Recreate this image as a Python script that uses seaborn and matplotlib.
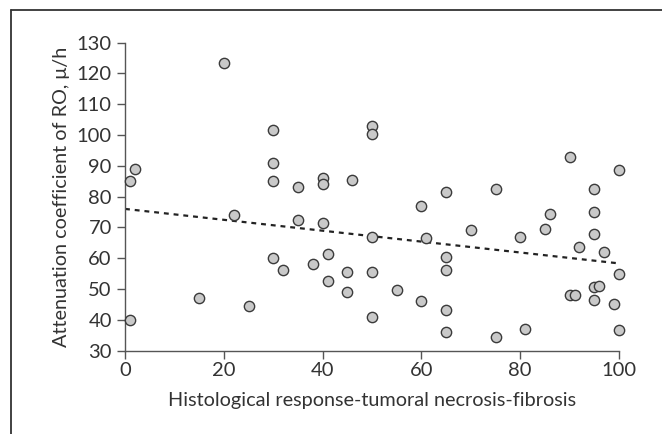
import matplotlib
matplotlib.use("Agg")
import matplotlib.pyplot as plt
import seaborn as sns
import pandas as pd
from matplotlib.lines import Line2D

response = [1, 2, 1, 15, 20, 22, 25, 30, 30, 30, 30, 32, 35, 35, 38, 40, 40, 40, 41, 41,
            45, 45, 46, 50, 50, 50, 50, 50, 55, 60, 60, 61, 65, 65, 65, 65, 65, 70, 75, 75,
            80, 81, 85, 86, 90, 90, 91, 92, 95, 95, 95, 95, 95, 96, 97, 99, 100, 100, 100]
attenuation = [85, 89, 40, 47, 123.5, 74, 44.5, 101.5, 91, 85, 60, 56, 83, 72.5, 58, 86, 84, 71.5, 61.5, 52.5,
               55.5, 49, 85.5, 103, 100.5, 67, 55.5, 41, 49.5, 77, 46, 66.5, 81.5, 60.5, 56, 43, 36, 69, 82.5, 34.5,
               67, 37, 69.5, 74.5, 93, 48, 48, 63.5, 82.5, 75, 68, 50.5, 46.5, 51, 62, 45, 88.5, 55, 36.5]
trend_x = [0, 100]
trend_y = [76, 58.3]
x_ticks = [0, 20, 40, 60, 80, 100]
y_ticks = [30, 40, 50, 60, 70, 80, 90, 100, 110, 120, 130]

sns.set_theme(style="white")
plt.rcParams['font.family'] = ['Lato', 'DejaVu Sans']

df = pd.DataFrame({"x": response, "y": attenuation})
tr = pd.DataFrame({"x": trend_x, "y": trend_y})

fig = plt.figure(figsize=(6.62, 4.34), dpi=100)
ax = fig.add_axes([125/662, 1 - 350.5/434, (619 - 125)/662, (350.5 - 42.7)/434])

sns.lineplot(data=tr, x="x", y="y", ax=ax, color="#222222", linewidth=1.6,
             linestyle=(0, (2.2, 2.2)), zorder=2)
sns.scatterplot(data=df, x="x", y="y", ax=ax, s=55, color="#c9c9c9",
                edgecolor="#3a3a3a", linewidth=1.0, zorder=3, clip_on=False)

ax.set_xlim(0, 100)
ax.set_ylim(30, 130)
ax.set_xticks(x_ticks)
ax.set_yticks(y_ticks)
ax.set_xticklabels([str(v) for v in x_ticks])
ax.set_yticklabels([str(v) for v in y_ticks])
for c in ax.collections:
    c.set_clip_on(False)
sns.despine(ax=ax)
for sp in ["left", "bottom"]:
    ax.spines[sp].set_color("#555555")
    ax.spines[sp].set_linewidth(1.0)
ax.tick_params(axis="both", direction="out", length=5.5, width=1.0, color="#555555",
               labelsize=14.5, labelcolor="#333333", bottom=True, left=True)
ax.tick_params(axis="y", pad=4)
ax.tick_params(axis="x", pad=3)
ax.set_xlabel("Histological response-tumoral necrosis-fibrosis", fontsize=14.3,
              color="#333333", labelpad=9)
ax.set_ylabel("Attenuation coefficient of RO, μ/h", fontsize=14.3, color="#333333", labelpad=5)

# outer frame lines (top and left)
fig.add_artist(Line2D([11/662, 11/662], [0, 1 - 9.5/434], transform=fig.transFigure,
                      color="#333333", linewidth=1.3))
fig.add_artist(Line2D([11/662, 1], [1 - 9.5/434, 1 - 9.5/434], transform=fig.transFigure,
                      color="#333333", linewidth=1.3))

fig.savefig("out.png", dpi=100)
